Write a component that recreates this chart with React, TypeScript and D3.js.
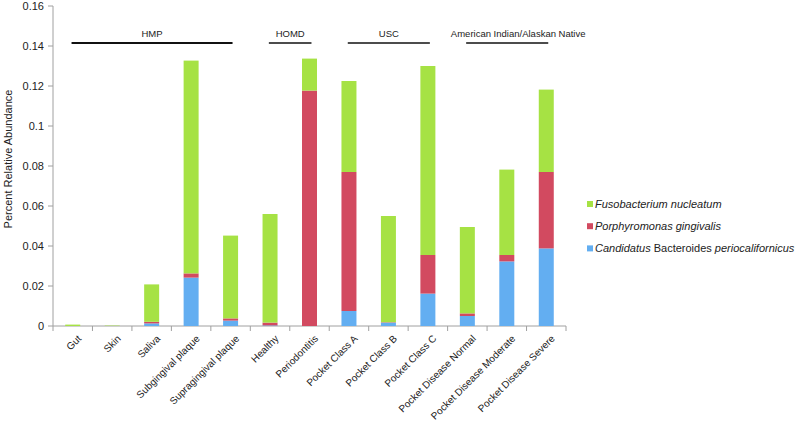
import React from "react";
import * as d3 from "d3";

const categories = [
  "Gut", "Skin", "Saliva", "Subgingival plaque", "Supragingival plaque", "Healthy",
  "Periodontitis", "Pocket Class A", "Pocket Class B", "Pocket Class C",
  "Pocket Disease Normal", "Pocket Disease Moderate", "Pocket Disease Severe",
];
const blueVals = [0, 0, 0.0013, 0.0242, 0.0027, 0.0003, 0, 0.0075, 0.0017, 0.0162, 0.005, 0.0323, 0.0388];
const redVals = [0, 0, 0.0008, 0.0021, 0.0011, 0.0014, 0.1177, 0.0695, 0.0002, 0.0193, 0.0013, 0.0032, 0.0382];
const greenVals = [0.0007, 0.0002, 0.0187, 0.1064, 0.0414, 0.0543, 0.016, 0.0455, 0.0531, 0.0945, 0.0432, 0.0427, 0.0412];
const yTicks = [0, 0.02, 0.04, 0.06, 0.08, 0.1, 0.12, 0.14, 0.16];
const groups = [
  { label: "HMP", from: 0, to: 4 },
  { label: "HOMD", from: 5, to: 6 },
  { label: "USC", from: 7, to: 9 },
  { label: "American Indian/Alaskan Native", from: 10, to: 12 },
];

const COLORS = { green: "#A6E244", red: "#D24A60", blue: "#63AEF1" };
const FONT = "'Liberation Sans', Arial, sans-serif";

export default function App() {
  const W = 798, H = 425;
  const left = 53, right = 566, top = 6, bottom = 326;
  const x = d3.scaleBand<string>().domain(categories).range([left, right]).paddingInner(0.62).paddingOuter(0.31);
  const xb = d3.scaleBand<string>().domain(categories).range([left, right]);
  const y = d3.scaleLinear().domain([0, 0.16]).range([bottom, top]);

  const rows = categories.map((c, i) => ({ cat: c, blue: blueVals[i], red: redVals[i], green: greenVals[i] }));
  const stack = d3.stack<any>().keys(["blue", "red", "green"])(rows);

  const bw = xb.bandwidth();
  return (
    <svg width={W} height={H} style={{ position: "absolute", left: 0, top: 0, background: "#fff" }}>
      {/* axes */}
      <line x1={left} x2={left} y1={top} y2={bottom} stroke="#a0a0a0" strokeWidth={1} />
      <line x1={left} x2={right} y1={bottom} y2={bottom} stroke="#a0a0a0" strokeWidth={1} />
      {yTicks.map((t) => (
        <g key={t}>
          <line x1={left - 5} x2={left} y1={y(t)} y2={y(t)} stroke="#a0a0a0" />
          <text x={left - 9} y={y(t)} dy="0.35em" textAnchor="end" fontSize={11} fontFamily={FONT} fill="#222">
            {String(t)}
          </text>
        </g>
      ))}
      {d3.range(categories.length + 1).map((i) => {
        const xx = left + i * bw;
        return <line key={i} x1={xx} x2={xx} y1={bottom} y2={bottom + 5} stroke="#a0a0a0" />;
      })}
      <text
        transform={`translate(8,159) rotate(-90)`}
        textAnchor="middle"
        dy="0.35em"
        fontSize={11}
        fontFamily={FONT}
        fill="#222"
      >
        Percent Relative Abundance
      </text>

      {/* bars */}
      {stack.map((s) => (
        <g key={s.key} fill={(COLORS as any)[s.key]}>
          {s.map((d, i) => (
            <rect
              key={i}
              x={x(categories[i])}
              width={x.bandwidth()}
              y={y(d[1])}
              height={Math.max(0, y(d[0]) - y(d[1]))}
            />
          ))}
        </g>
      ))}

      {/* x labels */}
      {categories.map((c) => {
        const cx = (xb(c) as number) + bw / 2;
        return (
          <text
            key={c}
            transform={`translate(${cx + 5},${bottom + 9}) rotate(-45)`}
            textAnchor="end"
            dy="0.6em"
            fontSize={10}
            fontFamily={FONT}
            fill="#222"
          >
            {c}
          </text>
        );
      })}

      {/* groups */}
      {groups.map((g) => {
        const x1 = (xb(categories[g.from]) as number) + bw * 0.47;
        const x2 = (xb(categories[g.to]) as number) + bw * 0.55;
        const cx = (x1 + x2) / 2;
        return (
          <g key={g.label}>
            <line x1={x1} x2={x2} y1={43} y2={43} stroke="#111" strokeWidth={g.label === "HMP" ? 2 : 1.5} />
            <text x={g.label === "HMP" ? cx : cx + (g.label.length > 6 ? 11 : 0)} y={37} textAnchor="middle" fontSize={9.5} fontFamily={FONT} fill="#222">
              {g.label}
            </text>
          </g>
        );
      })}

      {/* legend */}
      {[
        { k: "green", parts: [{ t: "Fusobacterium nucleatum", i: true }] },
        { k: "red", parts: [{ t: "Porphyromonas gingivalis", i: true }] },
        {
          k: "blue",
          parts: [
            { t: "Candidatus", i: true },
            { t: " Bacteroides ", i: false },
            { t: "periocalifornicus", i: true },
          ],
        },
      ].map((l, j) => {
        const cy = 204 + j * 22.2;
        return (
          <g key={l.k}>
            <rect x={587} y={cy - 3} width={6} height={6} fill={(COLORS as any)[l.k]} />
            <text x={595} y={cy} dy="0.35em" fontSize={11} fontFamily={FONT} fill="#222">
              {l.parts.map((p, pi) => (
                <tspan key={pi} fontStyle={p.i ? "italic" : "normal"}>
                  {p.t}
                </tspan>
              ))}
            </text>
          </g>
        );
      })}
    </svg>
  );
}
